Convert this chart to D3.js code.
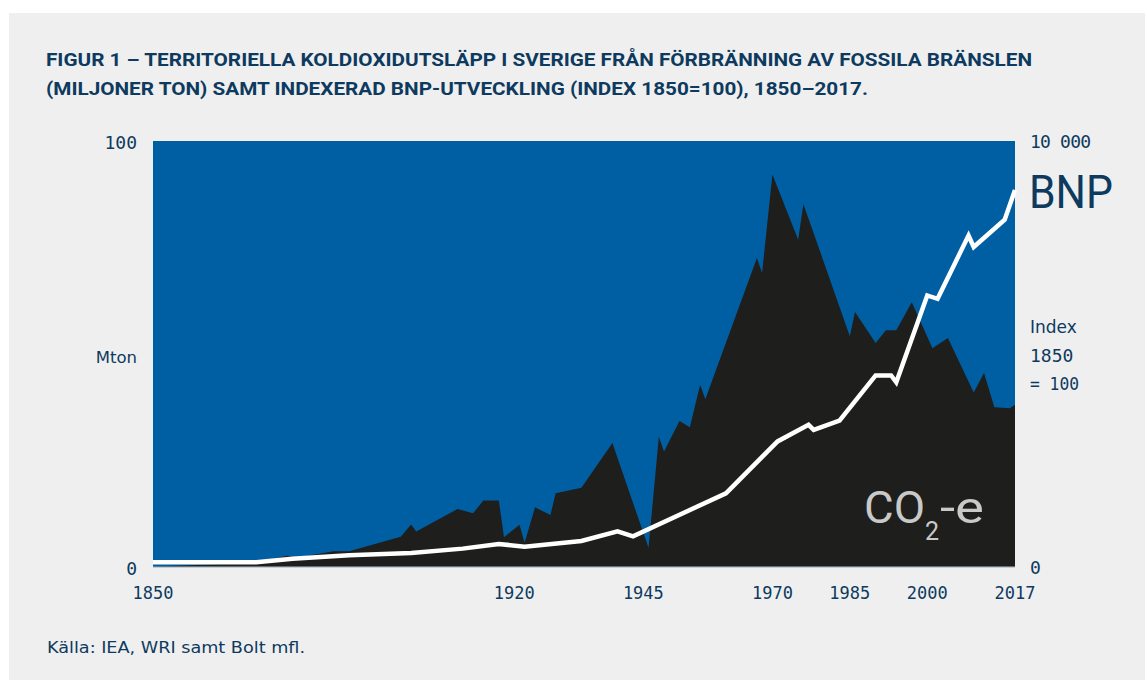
<!DOCTYPE html>
<html>
<head>
<meta charset="utf-8">
<script src="https://cdn.jsdelivr.net/npm/d3@7"></script>
<style>
  html, body { margin: 0; padding: 0; background: #ffffff; }
  svg { display: block; }
</style>
</head>
<body>
<svg id="chart" width="1145" height="680"></svg>
<script>
// ---------- DATA ----------
const titleLines = [
  "FIGUR 1 – TERRITORIELLA KOLDIOXIDUTSLÄPP I SVERIGE FRÅN FÖRBRÄNNING AV FOSSILA BRÄNSLEN",
  "(MILJONER TON) SAMT INDEXERAD BNP-UTVECKLING (INDEX 1850=100), 1850–2017."
];
const sourceText = "Källa: IEA, WRI samt Bolt mfl.";

// CO2 emissions, Mton
const co2Years = [1850, 1860, 1870, 1876, 1878, 1885, 1888, 1898, 1900, 1901, 1909, 1912, 1914, 1917, 1918,
  1921, 1922, 1924, 1927, 1928, 1933, 1939, 1946, 1948, 1949, 1952, 1954, 1956, 1957, 1967, 1968,
  1970, 1975, 1976, 1985, 1986, 1990, 1992, 1994, 1997, 2001, 2004, 2009, 2011, 2013, 2016, 2017];
const co2Values = [0, 0.4, 1.0, 2.5, 2.1, 3.6, 3.6, 7.0, 9.9, 8.2, 13.5, 12.5, 15.5, 15.5, 6.9,
  9.8, 5.6, 13.9, 12.1, 17.2, 18.5, 29.0, 4.4, 30.5, 27.0, 34.2, 32.7, 42.7, 39.3, 72.5, 69.0,
  92.1, 76.8, 85.2, 54.1, 59.8, 52.5, 55.5, 55.5, 62.1, 51.3, 53.7, 40.9, 45.5, 37.4, 37.2, 38.0];

// GDP (BNP) index, 1850 = 100
const bnpYears = [1850, 1870, 1877, 1888, 1900, 1910, 1917, 1922, 1933, 1940, 1943, 1961, 1971, 1977, 1978,
  1983, 1990, 1993, 1994, 2000, 2002, 2008, 2009, 2015, 2017];
const bnpValues = [100, 100, 180, 265, 320, 420, 530, 466, 600, 825, 710, 1720, 2940, 3330, 3210,
  3430, 4490, 4490, 4330, 6370, 6290, 7780, 7510, 8150, 8850];

const xTicks = [1850, 1920, 1945, 1970, 1985, 2000, 2017];
const leftTicks = [0, 100];
const leftTickLabels = ["0", "100"];
const rightTicks = [0, 10000];
const rightTickLabels = ["0", "10 000"];
const leftUnit = "Mton";
const rightUnitLines = ["Index", "1850", "= 100"];

// ---------- STYLE ----------
const navy = "#0d3a5e";
const blue = "#005fa3";
const dark = "#1e1e1c";
const mono = "'DejaVu Sans Mono', monospace";
const sans = "'DejaVu Sans', sans-serif";

const svg = d3.select("#chart");
const plot = { left: 153, right: 1015, top: 141, bottom: 566.5 };

const x = d3.scaleLinear().domain([1850, 2017]).range([plot.left, plot.right]);
const yL = d3.scaleLinear().domain([0, 100]).range([plot.bottom, plot.top]);
const yR = d3.scaleLinear().domain([0, 10000]).range([plot.bottom, plot.top]);

// background panel
svg.append("rect").attr("x", 9).attr("y", 13).attr("width", 1136).attr("height", 667).attr("fill", "#efefef");

// title
svg.selectAll("text.title").data(titleLines).join("text")
  .attr("class", "title")
  .attr("x", 46)
  .attr("y", (d, i) => 66 + i * 29)
  .attr("font-family", "Roboto, sans-serif")
  .attr("font-weight", 700)
  .attr("font-size", 18)
  .attr("fill", navy)
  .attr("textLength", (d, i) => i === 0 ? 986 : 822)
  .attr("lengthAdjust", "spacingAndGlyphs")
  .text(d => d);

// plot background (blue)
svg.append("rect")
  .attr("x", plot.left).attr("y", plot.top)
  .attr("width", plot.right - plot.left).attr("height", plot.bottom - plot.top + 0.5)
  .attr("fill", blue);

// CO2 area
const co2 = co2Years.map((yr, i) => ({ year: yr, v: co2Values[i] }));
const area = d3.area().x(d => x(d.year)).y0(yL(0)).y1(d => yL(d.v));
svg.append("path").datum(co2).attr("d", area).attr("fill", dark);

// baseline
svg.append("line")
  .attr("x1", plot.left).attr("x2", plot.right)
  .attr("y1", plot.bottom + 0.5).attr("y2", plot.bottom + 0.5)
  .attr("stroke", "#a8a8a8").attr("stroke-width", 1);

// BNP line
const bnp = bnpYears.map((yr, i) => ({ year: yr, v: bnpValues[i] }));
const line = d3.line().x(d => x(d.year)).y(d => yR(d.v));
svg.append("path").datum(bnp).attr("d", line)
  .attr("fill", "none").attr("stroke", "#ffffff").attr("stroke-width", 4.5)
  .attr("stroke-linejoin", "miter");

// left axis labels
svg.selectAll("text.lt").data(leftTicks).join("text")
  .attr("class", "lt")
  .attr("x", 137).attr("y", d => yL(d) + 8)
  .attr("text-anchor", "end")
  .attr("font-family", mono).attr("font-size", 18).attr("fill", navy)
  .text((d, i) => leftTickLabels[i]);
svg.append("text").attr("x", 137).attr("y", 363)
  .attr("text-anchor", "end")
  .attr("font-family", sans).attr("font-size", 16.5).attr("fill", navy)
  .text(leftUnit);

// right axis labels
svg.selectAll("text.rt").data(rightTicks).join("text")
  .attr("class", "rt")
  .attr("x", 1030).attr("y", d => yR(d) + (d === 0 ? 7.5 : 6.5))
  .attr("font-family", mono).attr("font-size", 18).attr("fill", navy)
  .each(function (d, i) {
    const t = d3.select(this).text(rightTickLabels[i]);
    if (rightTickLabels[i].length > 3) t.attr("textLength", 61).attr("lengthAdjust", "spacing");
  });
svg.selectAll("text.ru").data(rightUnitLines).join("text")
  .attr("class", "ru")
  .attr("x", 1030).attr("y", (d, i) => 333 + i * 28.7)
  .attr("font-family", (d, i) => i === 0 ? sans : mono)
  .attr("font-size", (d, i) => i === 0 ? 17 : 18)
  .attr("fill", navy)
  .each(function (d, i) {
    if (i === 2) d3.select(this).attr("textLength", 49).attr("lengthAdjust", "spacingAndGlyphs");
  })
  .text(d => d);

// BNP label
svg.append("text").attr("x", 1029).attr("y", 208)
  .attr("font-family", "Roboto, sans-serif").attr("font-size", 46).attr("fill", navy)
  .attr("textLength", 84).attr("lengthAdjust", "spacingAndGlyphs")
  .text("BNP");

// CO2-e label
const co2Font = "Roboto, sans-serif";
const co2Col = "#c9c9c9";
svg.append("text").attr("x", 864).attr("y", 523)
  .attr("font-family", co2Font).attr("font-size", 44).attr("fill", co2Col)
  .attr("textLength", 61).attr("lengthAdjust", "spacingAndGlyphs").text("CO");
svg.append("text").attr("x", 925).attr("y", 540)
  .attr("font-family", co2Font).attr("font-size", 25).attr("fill", co2Col).text("2");
svg.append("text").attr("x", 940).attr("y", 523)
  .attr("font-family", co2Font).attr("font-size", 44).attr("fill", co2Col)
  .attr("textLength", 44).attr("lengthAdjust", "spacingAndGlyphs").text("-e");

// x-axis labels
svg.selectAll("text.xt").data(xTicks).join("text")
  .attr("class", "xt")
  .attr("x", d => x(d)).attr("y", 599)
  .attr("text-anchor", "middle")
  .attr("font-family", mono).attr("font-size", 17).attr("fill", navy)
  .text(d => d);

// source
svg.append("text").attr("x", 47).attr("y", 653)
  .attr("font-family", sans).attr("font-size", 16).attr("fill", navy)
  .attr("textLength", 258).attr("lengthAdjust", "spacingAndGlyphs")
  .text(sourceText);
</script>
</body>
</html>
